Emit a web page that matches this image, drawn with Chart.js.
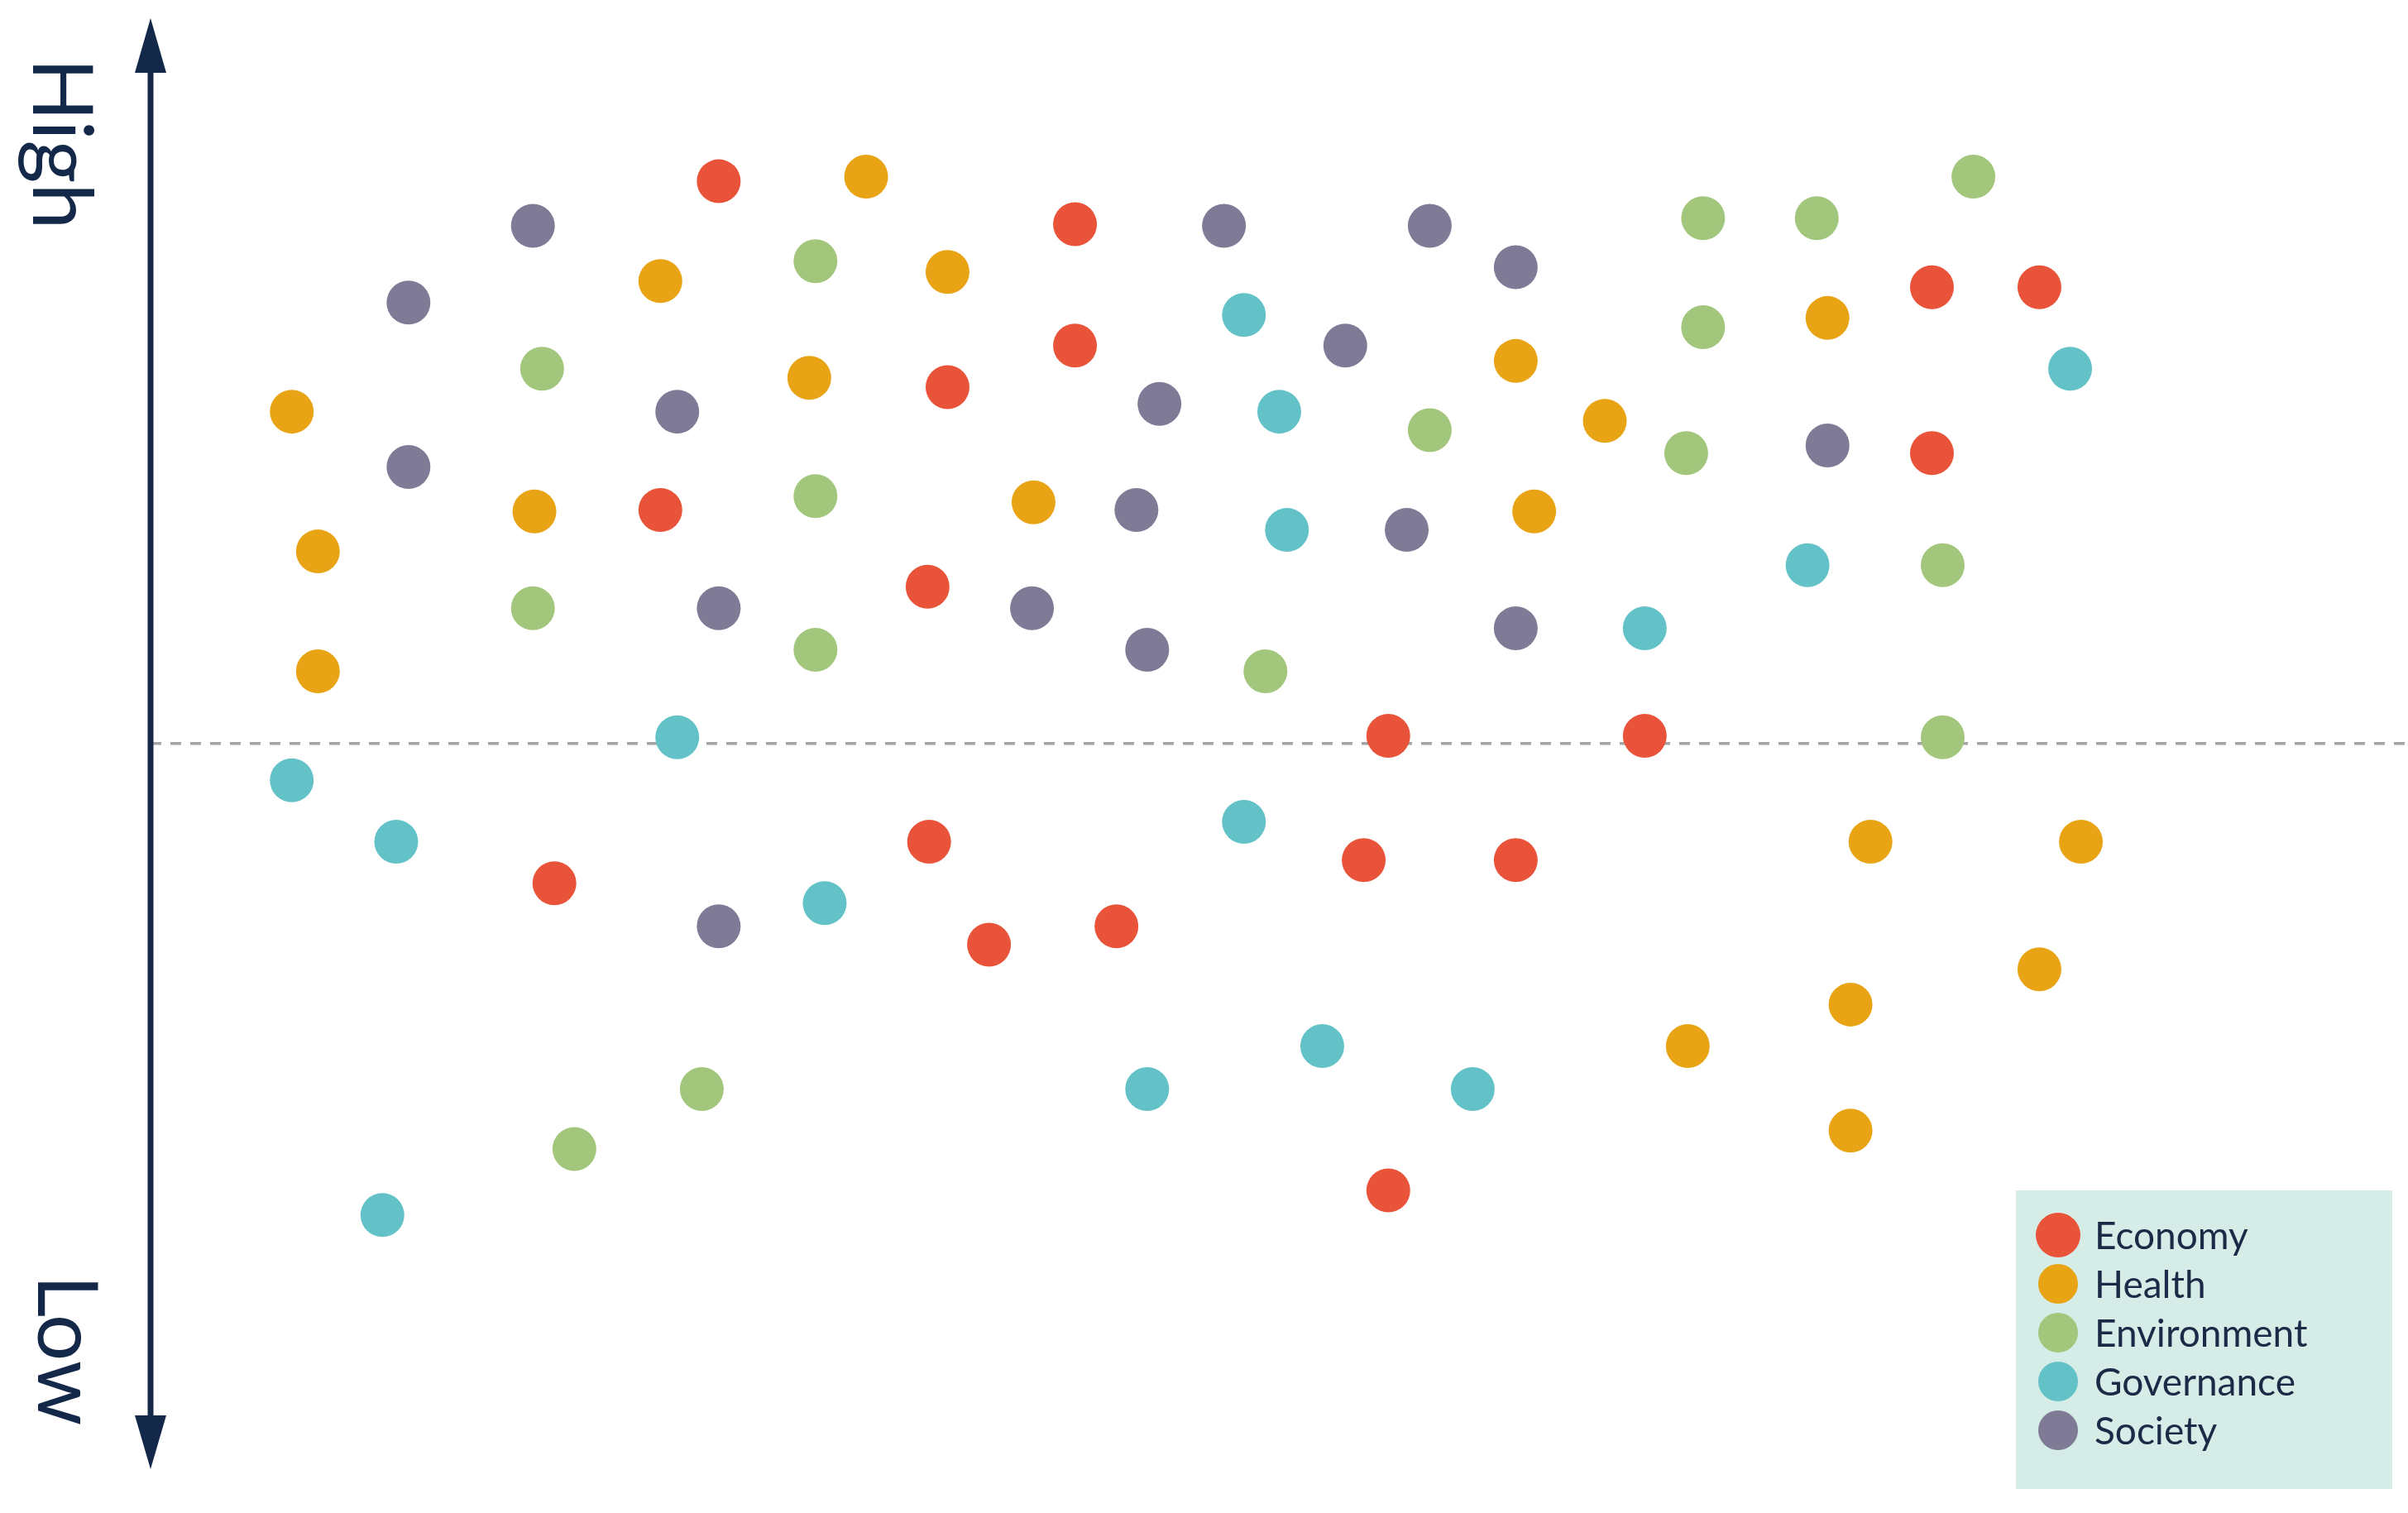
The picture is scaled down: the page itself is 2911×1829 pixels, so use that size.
<!DOCTYPE html>
<html>
<head>
<meta charset="utf-8">
<script src="https://cdn.jsdelivr.net/npm/chart.js@4.4.1/dist/chart.umd.min.js"></script>
<style>
    html, body { margin: 0; padding: 0; background: #ffffff; }
    #wrap { position: relative; width: 2911px; height: 1829px; }
</style>
</head>
<body>
<div id="wrap"><canvas id="myChart"></canvas></div>
<script>
// x = horizontal position, y = level above (+) or below (-) the dashed midline
const economy = [
    [468, 366], [700, 338], [700, 259], [617, 232], [430, 152], [604, 102],
    [1258, 297], [1328, 297], [1258, 189], [904, 5], [1071, 5], [605, -64],
    [361, -91], [644, -131], [727, -119], [888, -76], [987, -76], [904, -291]
]
const health = [
    [564, 369], [430, 301], [617, 307], [190, 216], [527, 238], [348, 151],
    [207, 125], [207, 47], [673, 157], [987, 249], [1045, 210], [999, 151],
    [1190, 277], [1218, -64], [1355, -64], [1328, -147], [1205, -170],
    [1099, -197], [1205, -252]
]
const environment = [
    [531, 314], [353, 244], [531, 161], [347, 88], [531, 61], [824, 47],
    [931, 204], [1109, 342], [1183, 342], [1285, 369], [1109, 271],
    [1098, 189], [1265, 116], [1265, 4], [457, -225], [374, -264]
]
const governance = [
    [810, 279], [833, 216], [838, 139], [1348, 244], [1177, 116], [1071, 75],
    [441, 4], [190, -24], [258, -64], [537, -104], [810, -51], [861, -197],
    [747, -225], [959, -225], [249, -307]
]
const society = [
    [347, 337], [266, 287], [266, 180], [441, 216], [468, 88], [797, 337],
    [931, 337], [987, 310], [876, 259], [755, 221], [740, 152], [672, 88],
    [747, 61], [916, 139], [987, 75], [1190, 194], [468, -119]
]

const seriesNames = ['Economy', 'Health', 'Environment', 'Governance', 'Society']
const seriesColors = ['#e9533a', '#e9a415', '#a2c67b', '#63c2c7', '#7f7b96']
const seriesData = [economy, health, environment, governance, society]

const axisLabels = { high: 'High', low: 'Low' }

const navy = '#14294a'

// arrow axis, labels, midline and legend box
const decorations = {
    id: 'decorations',
    beforeDatasetsDraw(chart) {
        const ctx = chart.ctx
        const y0 = chart.scales.y.getPixelForValue(0)
        const axisX = 182

        // dashed midline
        ctx.save()
        ctx.strokeStyle = '#a4a4a4'
        ctx.lineWidth = 3.5
        ctx.setLineDash([13, 11])
        ctx.beginPath()
        ctx.moveTo(axisX, y0)
        ctx.lineTo(chart.width, y0)
        ctx.stroke()
        ctx.restore()

        // vertical double arrow
        ctx.save()
        ctx.strokeStyle = navy
        ctx.fillStyle = navy
        ctx.lineWidth = 7
        ctx.beginPath()
        ctx.moveTo(axisX, 70)
        ctx.lineTo(axisX, 1725)
        ctx.stroke()
        ctx.beginPath()
        ctx.moveTo(axisX, 22)
        ctx.lineTo(axisX - 19, 88)
        ctx.lineTo(axisX + 19, 88)
        ctx.closePath()
        ctx.fill()
        ctx.beginPath()
        ctx.moveTo(axisX, 1776)
        ctx.lineTo(axisX - 19, 1711)
        ctx.lineTo(axisX + 19, 1711)
        ctx.closePath()
        ctx.fill()

        // rotated labels
        ctx.font = '100px Lato'
        ctx.textBaseline = 'alphabetic'
        ctx.textAlign = 'left'
        ctx.save()
        ctx.translate(40, 70)
        ctx.rotate(Math.PI / 2)
        ctx.fillText(axisLabels.high, 0, 0)
        ctx.restore()
        ctx.save()
        ctx.translate(46, 1541)
        ctx.rotate(Math.PI / 2)
        ctx.fillText(axisLabels.low, 0, 0)
        ctx.restore()
        ctx.restore()
    },
    afterDraw(chart) {
        const ctx = chart.ctx
        ctx.save()
        ctx.fillStyle = '#d6ece6'
        ctx.fillRect(2437, 1439, 455, 361)
        ctx.font = '46px Lato'
        ctx.textBaseline = 'alphabetic'
        ctx.textAlign = 'left'
        seriesNames.forEach((name, i) => {
            const cy = 1493 + i * 59
            ctx.fillStyle = seriesColors[i]
            ctx.beginPath()
            ctx.arc(2488, cy, i === 0 ? 27 : 24, 0, Math.PI * 2)
            ctx.fill()
            ctx.fillStyle = '#1b2a47'
            ctx.fillText(name, 2532, cy + 17)
        })
        ctx.restore()
    }
}

const ctx = document.getElementById('myChart').getContext('2d')
const chart = new Chart(ctx, {
    type: 'scatter',
    data: {
        datasets: seriesNames.map((name, i) => ({
            label: name,
            data: seriesData[i].map(p => ({ x: p[0], y: p[1] })),
            backgroundColor: seriesColors[i],
            borderWidth: 0,
            pointRadius: 26.5,
            pointHoverRadius: 26.5
        }))
    },
    options: {
        responsive: true,
        maintainAspectRatio: false,
        devicePixelRatio: 1,
        animation: false,
        layout: { padding: 0, autoPadding: false },
        plugins: {
            legend: { display: false },
            tooltip: { enabled: false }
        },
        scales: {
            x: { type: 'linear', display: false, min: 0, max: 1568 },
            y: { type: 'linear', display: false, min: -501, max: 484 }
        }
    },
    plugins: [decorations]
})
</script>
</body>
</html>
